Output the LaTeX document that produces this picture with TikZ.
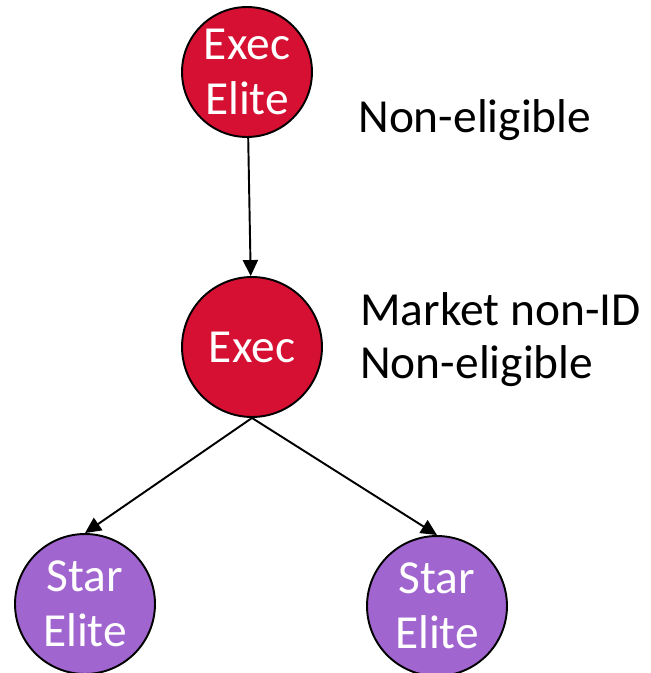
\documentclass[tikz,border=0pt]{standalone}
\usepackage{fontspec}
\setmainfont{Carlito}
\usetikzlibrary{arrows.meta}
\definecolor{execred}{RGB}{214,16,50}
\definecolor{starpurple}{RGB}{161,101,208}
\tikzset{
  tier/.style={circle, draw=black, line width=1.1pt, text=white, align=center,
    inner sep=0pt, font=\fontsize{27}{31}\selectfont},
  note/.style={anchor=base west, align=left, inner sep=0pt, font=\fontsize{27}{30}\selectfont}
}
\begin{document}
\begin{tikzpicture}[>={Triangle[length=0.32cm,width=0.3cm]}, x=0.02cm, y=-0.02cm]
\useasboundingbox (0,0) rectangle (651,673);
\node[tier, fill=execred, minimum size=2.6cm] (execelite) at (247,72) {Exec\\Elite};
\node[tier, fill=execred, minimum size=2.8cm] (exec) at (252,347) {Exec};
\node[tier, fill=starpurple, minimum size=2.8cm] (starL) at (85,604) {Star\\Elite};
\node[tier, fill=starpurple, minimum size=2.8cm] (starR) at (437,606) {Star\\Elite};
\node[note] (note1) at (358,132) {Non-eligible};
\node[note] (note2) at (360,378) {Market non-ID\\Non-eligible};
\draw[line width=1.1pt, ->](execelite)--(exec);
\draw[line width=1.1pt, ->](exec.south)--(starL.north);
\draw[line width=1.1pt, ->](exec.south)--(starR.north);
\end{tikzpicture}
\end{document}
